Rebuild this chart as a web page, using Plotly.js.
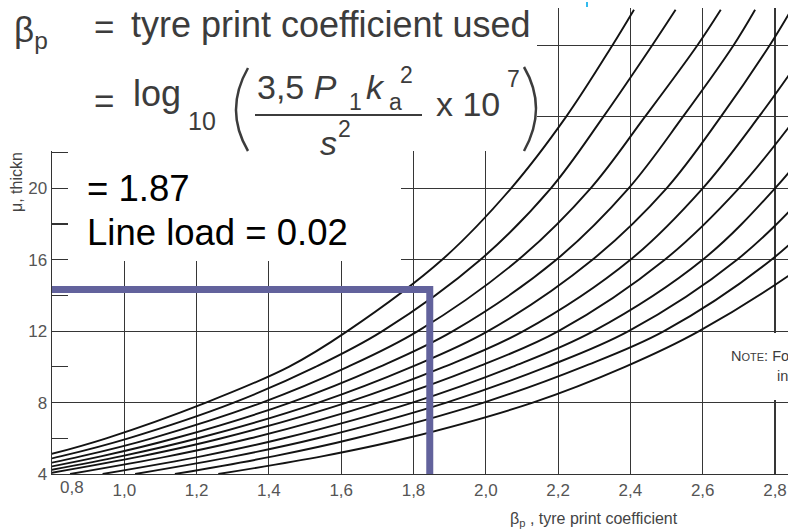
<!DOCTYPE html>
<html><head><meta charset="utf-8">
<script src="https://cdn.plot.ly/plotly-3.0.1.min.js"></script>
<style>html,body{margin:0;padding:0;background:#fff;overflow:hidden}</style>
</head><body><div id="chart" style="width:788px;height:529px"></div>
<script>
// thickness mu levels at which each curve's beta_p was read
const muLevels = [4, 5, 6, 8, 10, 12, 16, 20, 24, 28, 30];
// beta_p values of each curve at those mu levels (top-left curve first)
const curve01 = [0.56, 0.775, 0.95, 1.226, 1.455, 1.617, 1.879, 2.07, 2.222, 2.35, 2.41];
const curve02 = [0.60, 0.826, 1.011, 1.303, 1.529, 1.714, 1.985, 2.18, 2.325, 2.46, 2.525];
const curve03 = [0.645, 0.882, 1.076, 1.381, 1.618, 1.812, 2.09, 2.29, 2.44, 2.585, 2.65];
const curve04 = [0.69, 0.938, 1.14, 1.459, 1.706, 1.909, 2.195, 2.395, 2.545, 2.685, 2.745];
const curve05 = [0.735, 0.993, 1.204, 1.537, 1.795, 2.006, 2.295, 2.50, 2.65, 2.785, 2.845];
const curve06 = [0.78, 1.049, 1.269, 1.615, 1.884, 2.104, 2.40, 2.60, 2.755, 2.895, 2.96];
const curve07 = [0.85, 1.124, 1.349, 1.702, 1.977, 2.201, 2.495, 2.70, 2.86, 3.0, 3.065];
const curve08 = [0.94, 1.216, 1.441, 1.797, 2.073, 2.298, 2.60, 2.80, 2.96, 3.10, 3.165];
const curve09 = [1.03, 1.307, 1.534, 1.891, 2.168, 2.395, 2.695, 2.90, 3.07, 3.21, 3.275];
const curve10 = [1.14, 1.415, 1.639, 1.994, 2.268, 2.493, 2.79, 3.0, 3.18, 3.32, 3.385];
const curve11 = [1.26, 1.55, 1.78, 2.13, 2.385, 2.59, 2.90, 3.14, 3.35, 3.52, 3.60];
const curves = [curve01, curve02, curve03, curve04, curve05, curve06, curve07, curve08, curve09, curve10, curve11];

// read-off lines (purple)
const readBeta = [0.8, 1.845, 1.845];
const readMu = [14.33, 14.33, 4];

// ticks
const xTickVals = [1.0, 1.2, 1.4, 1.6, 1.8, 2.0, 2.2, 2.4, 2.6, 2.8];
const xTickText = ["1,0", "1,2", "1,4", "1,6", "1,8", "2,0", "2,2", "2,4", "2,6", "2,8"];
const xFirstLabel = "0,8";
const yTickVals = [4, 8, 12, 16, 20, 24, 28];
const yTickText = ["4", "8", "12", "16", "20", "24", "28"];
const yMinorVals = [6, 10, 14, 18, 22, 26];

const FONT = "Liberation Sans, Arial, Helvetica, sans-serif";
const L = 52, T = 8, W = 736, H = 466;
const px = v => (v - L) / W;
const py = v => (T + H - v) / H;

const traces = curves.map(b => ({
  x: b, y: muLevels, type: 'scatter', mode: 'lines',
  line: {color: '#131313', width: 1.9, shape: 'spline', smoothing: 1},
  hoverinfo: 'skip', showlegend: false
}));
traces.push({
  x: readBeta, y: readMu, type: 'scatter', mode: 'lines',
  line: {color: '#62629c', width: 7}, hoverinfo: 'skip', showlegend: false
});

const FG = '#3c3c3c';
function ann(text, x, y, size, o) {
  return Object.assign({
    text: text, xref: 'paper', yref: 'paper', x: px(x), y: py(y),
    xanchor: 'left', yanchor: 'middle', showarrow: false,
    font: {family: FONT, size: size, color: FG}
  }, o || {});
}

const annotations = [
  // formula block
  ann('β<sub>p</sub>', 12, 32, 35),
  ann('=', 92, 26, 35),
  ann('tyre print coefficient used', 129, 25, 36),
  ann('=', 92, 100, 35),
  ann('log', 131, 93, 36),
  ann('10', 186, 121, 25),
  ann('3,5 <i>P</i>', 255, 87, 34),
  ann('1', 347, 102, 23),
  ann('<i>k</i>', 364, 87, 34),
  ann('a', 387, 102, 23),
  ann('2', 398, 75, 23),
  ann('x 10', 434, 104, 34),
  ann('7', 505, 79, 23),
  ann('<i>s</i>', 318, 143, 34),
  ann('2', 336, 129, 23),
  // callout text
  ann('= 1.87', 85, 188, 36.5, {font: {family: FONT, size: 36.5, color: '#000'}}),
  ann('Line load = 0.02', 85, 232, 36.5, {font: {family: FONT, size: 36.5, color: '#000'}}),
  // note fragment
  ann('N<span style="font-size:11px">OTE</span>: Fo', 729, 356, 14.5),
  ann('in', 775, 376, 14.5),
  // axis texts
  ann(xFirstLabel, 72, 487, 17, {xanchor: 'center', font: {family: FONT, size: 17, color: '#555'}}),
  ann('β<sub>p</sub> , tyre print coefficient', 594, 519, 16, {xanchor: 'center', font: {family: FONT, size: 16, color: '#444'}}),
  ann('μ, thickn', 16, 182, 16, {xanchor: 'center', textangle: -90, font: {family: FONT, size: 16, color: '#444'}})
];

const shapes = [
  // white cover boxes
  {type: 'rect', xref: 'paper', yref: 'paper', x0: px(-2), x1: px(537), y0: py(151), y1: py(-2), fillcolor: '#fff', line: {width: 0}, layer: 'above'},
  {type: 'rect', xref: 'paper', yref: 'paper', x0: px(68), x1: px(401), y0: py(261), y1: py(150), fillcolor: '#fff', line: {width: 0}, layer: 'above'},
  {type: 'rect', xref: 'paper', yref: 'paper', x0: px(705), x1: px(790), y0: py(400), y1: py(333), fillcolor: '#fff', line: {width: 0}, layer: 'above'},
  // fraction bar
  {type: 'line', xref: 'paper', yref: 'paper', x0: px(255), x1: px(422), y0: py(115), y1: py(115), line: {color: FG, width: 2}, layer: 'above'},
  // parentheses
  {type: 'path', xref: 'paper', yref: 'paper', layer: 'above', line: {color: FG, width: 2.5},
   path: `M ${px(248)} ${py(68)} Q ${px(224)} ${py(110)} ${px(248)} ${py(151)}`},
  {type: 'path', xref: 'paper', yref: 'paper', layer: 'above', line: {color: FG, width: 2.5},
   path: `M ${px(524)} ${py(67)} Q ${px(548)} ${py(108)} ${px(524)} ${py(151)}`},
  // small blue mark
  {type: 'line', xref: 'paper', yref: 'paper', x0: px(587), x1: px(587), y0: py(2), y1: py(7), line: {color: '#33bbee', width: 2}, layer: 'above'}
];

const layout = {
  width: 788, height: 529,
  margin: {l: L, r: 0, t: T, b: 529 - T - H},
  paper_bgcolor: '#fff', plot_bgcolor: '#fff',
  font: {family: FONT, color: '#555'},
  showlegend: false,
  xaxis: {
    range: [0.8, 2.836], tickvals: xTickVals, ticktext: xTickText,
    showgrid: true, gridcolor: '#363636', gridwidth: 1.1,
    showline: true, linecolor: '#333', linewidth: 1.4,
    ticks: '', zeroline: false, tickfont: {size: 17, color: '#555', family: FONT},
    fixedrange: true
  },
  yaxis: {
    range: [4, 30.1], tickvals: yTickVals, ticktext: yTickText,
    showgrid: true, gridcolor: '#363636', gridwidth: 1.1,
    showline: true, linecolor: '#333', linewidth: 1.4,
    ticks: 'inside', ticklen: 16, tickcolor: '#333', tickwidth: 1.2,
    minor: {tickvals: yMinorVals, ticks: 'inside', ticklen: 16, tickcolor: '#333', tickwidth: 1.2, showgrid: false},
    zeroline: false, tickfont: {size: 17, color: '#555', family: FONT},
    fixedrange: true
  },
  annotations: annotations,
  shapes: shapes
};

Plotly.newPlot('chart', traces, layout, {staticPlot: true, displayModeBar: false});
</script>
</body></html>
